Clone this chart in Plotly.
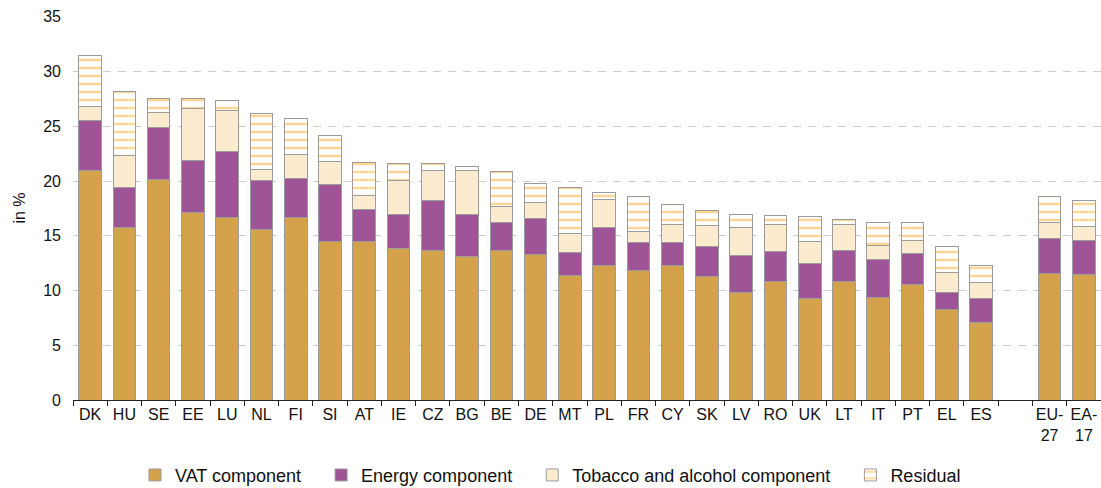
import plotly.graph_objects as go

categories = ["DK", "HU", "SE", "EE", "LU", "NL", "FI", "SI", "AT", "IE",
              "CZ", "BG", "BE", "DE", "MT", "PL", "FR", "CY", "SK", "LV",
              "RO", "UK", "LT", "IT", "PT", "EL", "ES", " ", "EU-<br>27", "EA-<br>17"]

vat = [21.0, 15.75, 20.1, 17.1, 16.65, 15.6, 16.7, 14.5, 14.5, 13.85,
       13.7, 13.15, 13.7, 13.25, 11.35, 12.25, 11.8, 12.25, 11.25, 9.85,
       10.85, 9.3, 10.85, 9.4, 10.55, 8.25, 7.05, None, 11.55, 11.45]
energy = [4.5, 3.65, 4.8, 4.8, 6.05, 4.45, 3.5, 5.15, 2.9, 3.1,
          4.5, 3.8, 2.5, 3.35, 2.1, 3.5, 2.55, 2.1, 2.75, 3.35,
          2.7, 3.15, 2.8, 3.4, 2.8, 1.6, 2.25, None, 3.2, 3.15]
tobacco = [1.35, 2.95, 1.4, 4.75, 3.75, 1.05, 2.2, 2.15, 1.25, 3.1,
           2.8, 4.05, 1.45, 1.4, 1.8, 2.6, 1.05, 1.7, 1.95, 2.6,
           2.5, 2.05, 2.35, 1.35, 1.25, 1.8, 1.45, None, 1.45, 1.25]
residual = [4.65, 5.8, 1.25, 0.9, 0.9, 5.1, 3.35, 2.35, 3.05, 1.55,
            0.6, 0.35, 3.25, 1.8, 4.2, 0.65, 3.15, 1.8, 1.35, 1.15,
            0.8, 2.25, 0.5, 2.05, 1.6, 2.35, 1.5, None, 2.35, 2.4]

series_names = ["VAT component", "Energy component",
                "Tobacco and alcohol component", "Residual"]

FONT = "Liberation Sans, Arial, sans-serif"
OUTLINE = dict(color="#9c9c9c", width=1)
PAD = "\u00a0" * 3

fig = go.Figure()
fig.add_trace(go.Bar(x=categories, y=vat, name=series_names[0] + PAD,
                     marker=dict(color="#D4A24B", line=OUTLINE)))
fig.add_trace(go.Bar(x=categories, y=energy, name=series_names[1] + PAD,
                     marker=dict(color="#A05498", line=OUTLINE)))
fig.add_trace(go.Bar(x=categories, y=tobacco, name=series_names[2] + PAD,
                     marker=dict(color="#FDEBD0", line=OUTLINE)))
fig.add_trace(go.Bar(x=categories, y=residual, name=series_names[3],
                     marker=dict(color="white", line=OUTLINE,
                                 pattern=dict(shape="-", fgcolor="#FFD596",
                                              bgcolor="white", size=8,
                                              solidity=0.3,
                                              fillmode="replace"))))

fig.update_layout(
    width=1101, height=488, autosize=False,
    barmode="stack", bargap=0.34,
    plot_bgcolor="white", paper_bgcolor="white",
    margin=dict(l=73, r=0, t=16, b=88),
    font=dict(family=FONT, size=16, color="#111111"),
    showlegend=True,
    legend=dict(orientation="h", xref="container", x=0.5, xanchor="center",
                yref="container", y=0.064, yanchor="top",
                font=dict(size=18), traceorder="normal", itemwidth=30),
    xaxis=dict(type="category", categoryorder="array", categoryarray=categories,
               tickson="boundaries", ticks="outside", ticklen=5, tickangle=0,
               tickcolor="#222222", showline=True, linecolor="#222222",
               linewidth=1, showgrid=False, tickfont=dict(size=16)),
    yaxis=dict(range=[0, 35.08], tickvals=[0, 5, 10, 15, 20, 25, 30, 35],
               showgrid=True, gridcolor="#cccccc",
               griddash="8px,7px", gridwidth=1, zeroline=False,
               showline=False, ticks="", ticklabelstandoff=11,
               tickfont=dict(size=16),
               title=dict(text="in %", font=dict(size=16), standoff=13)),
)

fig.write_html(
    "out.html",
    config={"displayModeBar": False},
    post_script="document.body.style.margin='0';"
                "document.documentElement.style.overflow='hidden';",
)
